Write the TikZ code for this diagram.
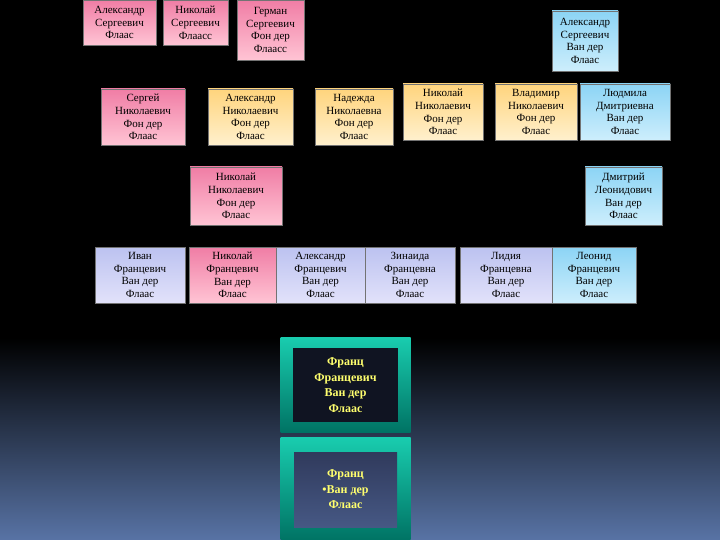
\documentclass[tikz,border=0pt]{standalone}
\usepackage{fontspec}
\setmainfont{Liberation Serif}
\definecolor{pkT}{RGB}{240,125,165}
\definecolor{pkB}{RGB}{255,196,212}
\definecolor{ylT}{RGB}{255,212,125}
\definecolor{ylB}{RGB}{255,240,205}
\definecolor{blT}{RGB}{140,212,245}
\definecolor{blB}{RGB}{205,238,252}
\definecolor{lvT}{RGB}{188,194,240}
\definecolor{lvB}{RGB}{226,226,250}
\definecolor{tlT}{RGB}{25,205,175}
\definecolor{tlB}{RGB}{0,115,100}
\definecolor{bgB}{RGB}{88,115,165}
\definecolor{fyel}{RGB}{255,255,110}
\tikzset{
  fam/.style={draw=black!55, line width=0.4pt, inner sep=0pt, align=center,
    font=\fontsize{11}{12.8}\selectfont, text=black},
  pinkbox/.style={fam, top color=pkT, bottom color=pkB},
  yelbox/.style={fam, top color=ylT, bottom color=ylB},
  bluebox/.style={fam, top color=blT, bottom color=blB},
  lavbox/.style={fam, top color=lvT, bottom color=lvB},
  frame/.style={inner sep=0pt, top color=tlT, bottom color=tlB,
    minimum width=130pt},
  franz/.style={inner sep=0pt, align=center, text=fyel,
    font=\bfseries\fontsize{12}{15.5}\selectfont}
}
\begin{document}
\begin{tikzpicture}[x=1pt,y=-1pt]
\useasboundingbox (0,0) rectangle (720,540);
\fill[black] (0,0) rectangle (720,540);
\shade[top color=black, bottom color=bgB] (0,338) rectangle (720,540);

% row 1
\node[pinkbox, minimum width=73pt, minimum height=45pt] (a1) at (119.5,22.5) {Александр\\Сергеевич\\Флаас};
\node[pinkbox, minimum width=65pt, minimum height=45pt] (a2) at (195.5,22.5) {Николай\\Сергеевич\\Флаасс};
\node[pinkbox, minimum width=67pt, minimum height=60pt] (a3) at (270.5,30) {Герман\\Сергеевич\\Фон дер\\Флаасс};
\node[bluebox, minimum width=66pt, minimum height=60pt] (a4) at (585,41) {Александр\\Сергеевич\\Ван дер\\Флаас};

% row 2
\node[pinkbox, minimum width=84pt, minimum height=56pt] (b1) at (143,117) {Сергей\\Николаевич\\Фон дер\\Флаас};
\node[yelbox, minimum width=85pt, minimum height=56pt] (b2) at (250.5,117) {Александр\\Николаевич\\Фон дер\\Флаас};
\node[yelbox, minimum width=78pt, minimum height=56pt] (b3) at (354,117) {Надежда\\Николаевна\\Фон дер\\Флаас};
\node[yelbox, minimum width=80pt, minimum height=56pt] (b4) at (443,112) {Николай\\Николаевич\\Фон дер\\Флаас};
\node[yelbox, minimum width=82pt, minimum height=56pt] (b5) at (536,112) {Владимир\\Николаевич\\Фон дер\\Флаас};
\node[bluebox, minimum width=90pt, minimum height=56pt] (b6) at (625,112) {Людмила\\Дмитриевна\\Ван дер\\Флаас};

% row 3
\node[pinkbox, minimum width=92pt, minimum height=58pt] (c1) at (236,196) {Николай\\Николаевич\\Фон дер\\Флаас};
\node[bluebox, minimum width=77pt, minimum height=58pt] (c2) at (623.5,196) {Дмитрий\\Леонидович\\Ван дер\\Флаас};

% row 4
\node[lavbox, minimum width=90pt, minimum height=56pt] (d1) at (140,275) {Иван\\Францевич\\Ван дер\\Флаас};
\node[pinkbox, minimum width=87pt, minimum height=56pt] (d2) at (232.5,275) {Николай\\Францевич\\Ван дер\\Флаас};
\node[lavbox, minimum width=89pt, minimum height=56pt] (d3) at (320.5,275) {Александр\\Францевич\\Ван дер\\Флаас};
\node[lavbox, minimum width=90pt, minimum height=56pt] (d4) at (410,275) {Зинаида\\Францевна\\Ван дер\\Флаас};
\node[lavbox, minimum width=92pt, minimum height=56pt] (d5) at (506,275) {Лидия\\Францевна\\Ван дер\\Флаас};
\node[bluebox, minimum width=84pt, minimum height=56pt] (d6) at (594,275) {Леонид\\Францевич\\Ван дер\\Флаас};

% Franz boxes
\node[frame, minimum height=95pt] (f1) at (345.5,384.5) {};
\node[franz, fill={rgb,255:red,16;green,20;blue,34}, minimum width=105pt, minimum height=74pt] (f1in) at (345.5,385) {Франц\\Францевич\\Ван дер\\Флаас};
\node[frame, minimum height=103pt] (f2) at (345.5,488.5) {};
\node[franz, top color={rgb,255:red,48;green,58;blue,92}, bottom color={rgb,255:red,70;green,88;blue,132}, minimum width=103pt, minimum height=75pt] (f2in) at (345.5,489.5) {Франц\\•Ван дер\\Флаас};
\end{tikzpicture}
\end{document}
